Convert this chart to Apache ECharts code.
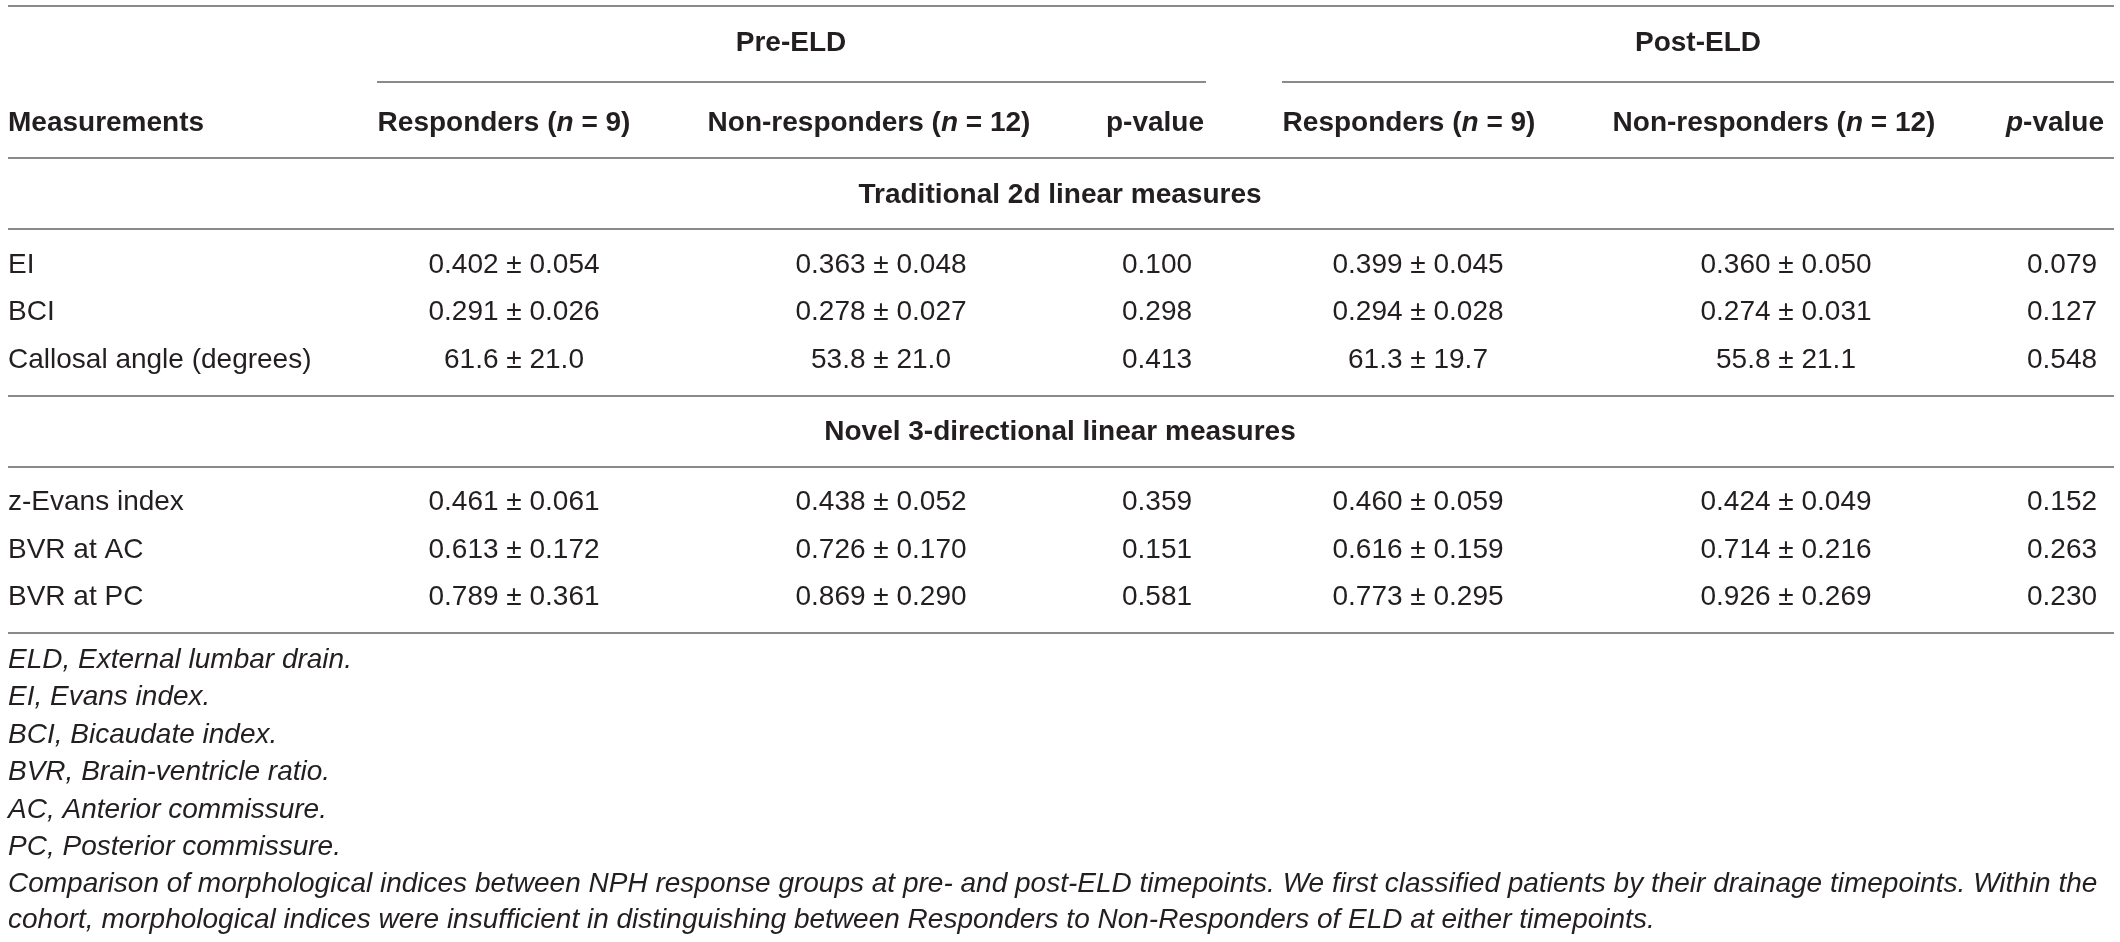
<!DOCTYPE html>
<html lang="en">
<head>
    <meta charset="UTF-8">
    <title>Morphological indices table</title>
    <script src="https://cdn.jsdelivr.net/npm/echarts@6/dist/echarts.min.js"></script>
    <style>
        body { margin: 0; background: #fff; }
    </style>
</head>
<body>
<div id="main" style="width: 2120px;height:942px;"></div>
<script type="text/javascript">
    // 表格数据
    var groups = ['Pre-ELD', 'Post-ELD'];
    var sections = ['Traditional 2d linear measures', 'Novel 3-directional linear measures'];
    var measures = ['EI', 'BCI', 'Callosal angle (degrees)', 'z-Evans index', 'BVR at AC', 'BVR at PC'];
    var decimals = [3, 3, 1, 3, 3, 3];

    var preRespMean = [0.402, 0.291, 61.6, 0.461, 0.613, 0.789];
    var preRespSd = [0.054, 0.026, 21.0, 0.061, 0.172, 0.361];
    var preNonMean = [0.363, 0.278, 53.8, 0.438, 0.726, 0.869];
    var preNonSd = [0.048, 0.027, 21.0, 0.052, 0.170, 0.290];
    var preP = [0.100, 0.298, 0.413, 0.359, 0.151, 0.581];

    var postRespMean = [0.399, 0.294, 61.3, 0.460, 0.616, 0.773];
    var postRespSd = [0.045, 0.028, 19.7, 0.059, 0.159, 0.295];
    var postNonMean = [0.360, 0.274, 55.8, 0.424, 0.714, 0.926];
    var postNonSd = [0.050, 0.031, 21.1, 0.049, 0.216, 0.269];
    var postP = [0.079, 0.127, 0.548, 0.152, 0.263, 0.230];

    var footnotes = [
        'ELD, External lumbar drain.',
        'EI, Evans index.',
        'BCI, Bicaudate index.',
        'BVR, Brain-ventricle ratio.',
        'AC, Anterior commissure.',
        'PC, Posterior commissure.',
        'Comparison of morphological indices between NPH response groups at pre- and post-ELD timepoints. We first classified patients by their drainage timepoints. Within the',
        'cohort, morphological indices were insufficient in distinguishing between Responders to Non-Responders of ELD at either timepoints.'
    ];

    // 版式
    var FONT = "'Liberation Sans', Arial, Helvetica, sans-serif";
    var TEXT = '#231f20';
    var RULE = '#8a8a8a';
    var left = 8, right = 2114;
    var headCols = [504, 869, 1155, 1409, 1774, 2055];
    var dataCols = [514, 881, 1157, 1418, 1786, 2062];
    var rowY = [265, 312, 360, 502, 550, 597];
    var sectionY = [195, 432];
    var footY = [660, 697, 735, 772, 810, 847, 884, 920];

    var els = [];

    function hline(x1, x2, y) {
        els.push({
            type: 'line', silent: true,
            shape: {x1: x1, y1: y, x2: x2, y2: y},
            style: {stroke: RULE, lineWidth: 2}
        });
    }

    function txt(s, x, y, align, weight, style, size) {
        els.push({
            type: 'text', silent: true,
            style: {
                text: s, x: x, y: y,
                textAlign: align, textVerticalAlign: 'middle',
                fill: TEXT,
                font: (style || 'normal') + ' ' + (weight || 'normal') + ' ' + (size || 28) + 'px ' + FONT
            }
        });
    }

    function rich(s, x, y, align) {
        els.push({
            type: 'text', silent: true,
            style: {
                text: s, x: x, y: y,
                textAlign: align, textVerticalAlign: 'middle',
                rich: {
                    b: {fontFamily: FONT, fontSize: 28, fontWeight: 'bold', fill: TEXT, color: TEXT},
                    bi: {fontFamily: FONT, fontSize: 28, fontWeight: 'bold', fontStyle: 'italic', fill: TEXT, color: TEXT}
                }
            }
        });
    }

    function ms(mean, sd, d) {
        return mean.toFixed(d) + ' \u00b1 ' + sd.toFixed(d);
    }

    // 横线
    hline(left, right, 6);
    hline(377, 1206, 82);
    hline(1282, right, 82);
    hline(left, right, 158);
    hline(left, right, 229);
    hline(left, right, 396);
    hline(left, right, 467);
    hline(left, right, 633);

    // 表头
    txt(groups[0], 791, 43, 'center', 'bold');
    txt(groups[1], 1698, 43, 'center', 'bold');
    txt('Measurements', left, 123, 'left', 'bold');
    rich('{b|Responders (}{bi|n}{b| = 9)}', headCols[0], 123, 'center');
    rich('{b|Non-responders (}{bi|n}{b| = 12)}', headCols[1], 123, 'center');
    rich('{b|p-value}', headCols[2], 123, 'center');
    rich('{b|Responders (}{bi|n}{b| = 9)}', headCols[3], 123, 'center');
    rich('{b|Non-responders (}{bi|n}{b| = 12)}', headCols[4], 123, 'center');
    rich('{bi|p}{b|-value}', headCols[5], 123, 'center');

    txt(sections[0], 1060, sectionY[0], 'center', 'bold');
    txt(sections[1], 1060, sectionY[1], 'center', 'bold');

    // 数据行
    measures.forEach(function (m, i) {
        var y = rowY[i], d = decimals[i];
        txt(m, left, y, 'left');
        txt(ms(preRespMean[i], preRespSd[i], d), dataCols[0], y, 'center');
        txt(ms(preNonMean[i], preNonSd[i], d), dataCols[1], y, 'center');
        txt(preP[i].toFixed(3), dataCols[2], y, 'center');
        txt(ms(postRespMean[i], postRespSd[i], d), dataCols[3], y, 'center');
        txt(ms(postNonMean[i], postNonSd[i], d), dataCols[4], y, 'center');
        txt(postP[i].toFixed(3), dataCols[5], y, 'center');
    });

    // 脚注: 长行按宽度缩放字号
    var ctx = document.createElement('canvas').getContext('2d');
    ctx.font = 'italic 28px ' + FONT;
    var w = ctx.measureText(footnotes[6]).width;
    var capSize = Math.min(28, 28 * (right - left) / w);
    footnotes.forEach(function (f, i) {
        txt(f, left, footY[i], 'left', 'normal', 'italic', i >= 6 ? capSize : 28);
    });

    var myChart = echarts.init(document.getElementById('main'));
    myChart.setOption({
        animation: false,
        graphic: {elements: els}
    });
</script>
</body>
</html>
